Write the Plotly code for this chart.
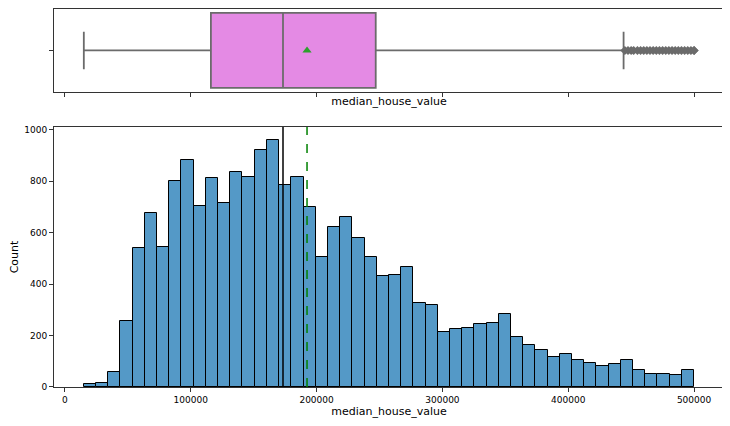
import numpy as np
import plotly.graph_objects as go

# histogram counts, 50 bins from min to max of median_house_value
counts = [10, 15, 60, 255, 540, 675, 545, 800, 880, 705,
          810, 715, 835, 815, 920, 960, 785, 815, 700, 505,
          620, 660, 580, 505, 430, 435, 465, 325, 320, 215,
          225, 230, 245, 250, 285, 195, 165, 145, 115, 130,
          105, 95, 80, 90, 105, 65, 50, 50, 45, 65]
x_min, x_max = 14999, 500001

# box stats
q1, med, q3 = 116000, 173300, 247000
lo_fence, hi_fence = 14999, 444000
mean_val = 192400
outliers = [445000, 447500, 450000, 452000, 455000, 457500, 460000, 462500,
            465000, 467500, 470000, 472500, 475000, 477500, 480000, 482500,
            485000, 487500, 490000, 492500, 495000, 497500, 500000, 500001]

edges = np.linspace(x_min, x_max, len(counts) + 1)
centers = (edges[:-1] + edges[1:]) / 2
width = edges[1] - edges[0]

fig = go.Figure()
grey = "#6b6b6b"

fig.add_trace(go.Box(
    y=["a"], q1=[q1], median=[med], q3=[q3], lowerfence=[lo_fence], upperfence=[hi_fence],
    orientation="h", fillcolor="#e48ae4", line=dict(color=grey, width=1.8),
    width=0.8, xaxis="x2", yaxis="y2", hoverinfo="skip", boxpoints=False))
fig.add_trace(go.Scatter(
    x=outliers, y=["a"] * len(outliers), mode="markers", xaxis="x2", yaxis="y2",
    marker=dict(symbol="diamond", size=7, color=grey)))
fig.add_trace(go.Scatter(
    x=[mean_val], y=["a"], mode="markers", xaxis="x2", yaxis="y2",
    marker=dict(symbol="triangle-up", size=8, color="#2ca02c")))

fig.add_trace(go.Bar(
    x=centers, y=counts, width=width,
    marker=dict(color="#5499c7", line=dict(color="black", width=1))))

fig.add_shape(type="line", x0=med, x1=med, y0=0, y1=1, yref="y domain",
              line=dict(color="black", width=1.5))
fig.add_shape(type="line", x0=mean_val, x1=mean_val, y0=0, y1=1, yref="y domain",
              line=dict(color="green", width=1.5, dash="dash"))

axis_common = dict(showline=True, mirror=True, linecolor="#333333", showgrid=False,
                   zeroline=False, ticks="outside", ticklen=4, tickcolor="#333333",
                   automargin=False)
x_range = [-8700, 523800]
fig.update_layout(
    width=730, height=426,
    margin=dict(l=46, r=14, t=0, b=47),
    plot_bgcolor="white", paper_bgcolor="white",
    showlegend=False, bargap=0,
    font=dict(family="DejaVu Sans", size=9, color="black"),
    xaxis=dict(axis_common, domain=[0, 1], range=x_range,
               tickvals=[0, 100000, 200000, 300000, 400000, 500000],
               tickformat="d",
               title=dict(text="median_house_value", standoff=1)),
    yaxis=dict(axis_common, domain=[0, 0.686], range=[0, 1010],
               tickvals=[0, 200, 400, 600, 800, 1000],
               title=dict(text="Count", standoff=4)),
    xaxis2=dict(axis_common, domain=[0, 1], range=x_range, anchor="y2",
                tickvals=[0, 100000, 200000, 300000, 400000, 500000], showticklabels=False,
                title=dict(text="median_house_value", standoff=1)),
    yaxis2=dict(axis_common, domain=[0.778, 0.998], anchor="x2",
                tickvals=["a"], ticktext=[""]),
)

fig.write_html("out.html")
